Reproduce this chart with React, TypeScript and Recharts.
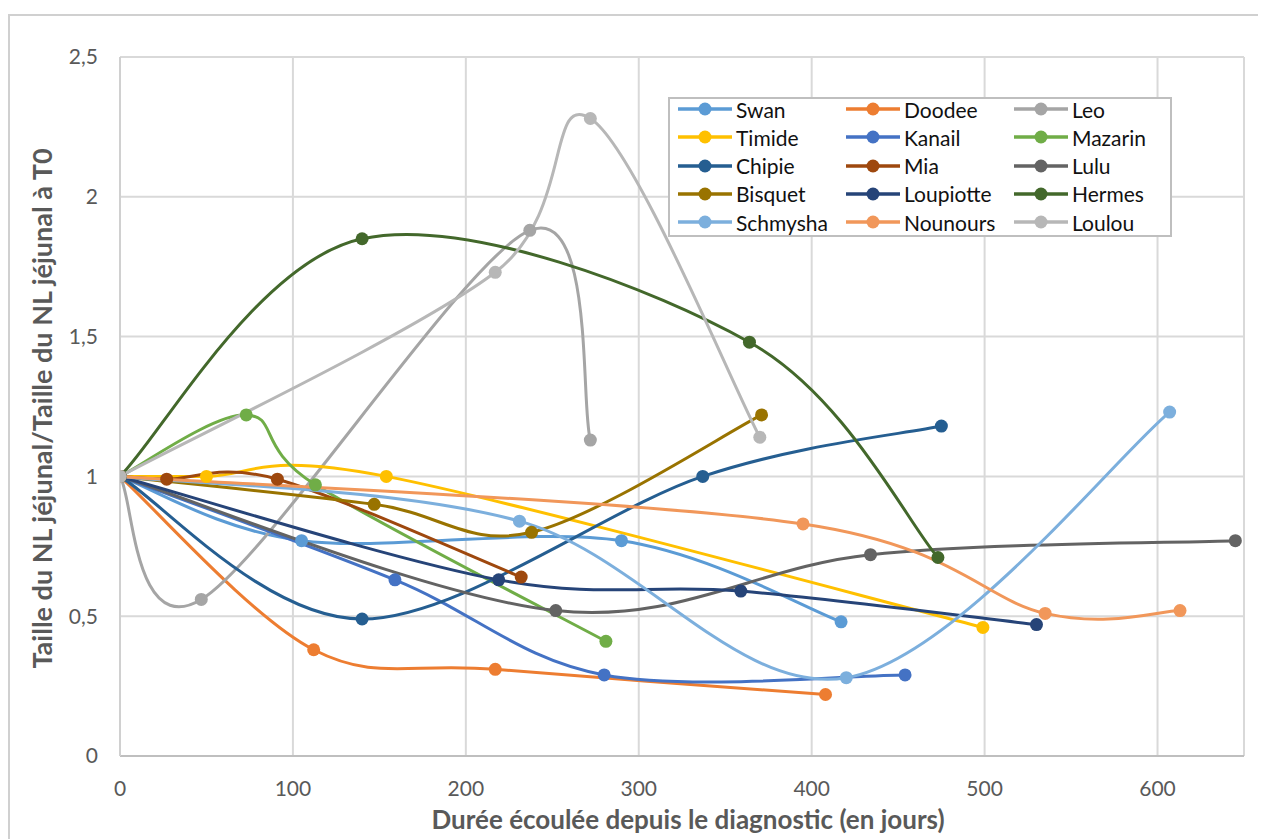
import { CartesianGrid, Label, Legend, Line, LineChart, XAxis, YAxis } from "recharts"

const dogNames = [
  "Swan", "Doodee", "Leo", "Timide", "Kanail", "Mazarin", "Chipie", "Mia",
  "Lulu", "Bisquet", "Loupiotte", "Hermes", "Schmysha", "Nounours", "Loulou",
]
const lineColors = [
  "#5B9BD5", "#ED7D31", "#A5A5A5", "#FFC000", "#4472C4", "#70AD47", "#255E91", "#9E480E",
  "#636363", "#997300", "#264478", "#43682B", "#7CAFDD", "#F1975A", "#B7B7B7",
]

// jours depuis le diagnostic -> taille relative du NL jéjunal
const swanDays = [0, 105, 290, 417]
const swanRatio = [1, 0.77, 0.77, 0.48]
const doodeeDays = [0, 112, 217, 408]
const doodeeRatio = [1, 0.38, 0.31, 0.22]
const leoDays = [0, 47, 237, 272]
const leoRatio = [1, 0.56, 1.88, 1.13]
const timideDays = [0, 50, 154, 499]
const timideRatio = [1, 1.0, 1.0, 0.46]
const kanailDays = [0, 159, 280, 454]
const kanailRatio = [1, 0.63, 0.29, 0.29]
const mazarinDays = [0, 73, 113, 281]
const mazarinRatio = [1, 1.22, 0.97, 0.41]
const chipieDays = [0, 140, 337, 475]
const chipieRatio = [1, 0.49, 1.0, 1.18]
const miaDays = [0, 27, 91, 232]
const miaRatio = [1, 0.99, 0.99, 0.64]
const luluDays = [0, 252, 434, 645]
const luluRatio = [1, 0.52, 0.72, 0.77]
const bisquetDays = [0, 147, 238, 371]
const bisquetRatio = [1, 0.9, 0.8, 1.22]
const loupiotteDays = [0, 219, 359, 530]
const loupiotteRatio = [1, 0.63, 0.59, 0.47]
const hermesDays = [0, 140, 364, 473]
const hermesRatio = [1, 1.85, 1.48, 0.71]
const schmyshaDays = [0, 231, 420, 607]
const schmyshaRatio = [1, 0.84, 0.28, 1.23]
const nounoursDays = [0, 395, 535, 613]
const nounoursRatio = [1, 0.83, 0.51, 0.52]
const loulouDays = [0, 217, 272, 370]
const loulouRatio = [1, 1.73, 2.28, 1.14]

const xTicks = [0, 100, 200, 300, 400, 500, 600]
const yTicks = [0, 0.5, 1, 1.5, 2, 2.5]

const allDays = [
  swanDays, doodeeDays, leoDays, timideDays, kanailDays, mazarinDays, chipieDays, miaDays,
  luluDays, bisquetDays, loupiotteDays, hermesDays, schmyshaDays, nounoursDays, loulouDays,
]
const allRatios = [
  swanRatio, doodeeRatio, leoRatio, timideRatio, kanailRatio, mazarinRatio, chipieRatio, miaRatio,
  luluRatio, bisquetRatio, loupiotteRatio, hermesRatio, schmyshaRatio, nounoursRatio, loulouRatio,
]

const series = dogNames.map((name, i) => ({
  name,
  color: lineColors[i],
  points: allDays[i].map((d, j) => ({ x: d, y: allRatios[i][j] })),
}))

// lissage façon Excel (bezier type Catmull-Rom, tension 1/6)
const excelSmooth = (context: any) => {
  let px: number[] = []
  let py: number[] = []
  return {
    areaStart() {},
    areaEnd() {},
    lineStart() {
      px = []
      py = []
    },
    point(x: number, y: number) {
      px.push(+x)
      py.push(+y)
    },
    lineEnd() {
      const n = px.length
      if (!n) return
      context.moveTo(px[0], py[0])
      for (let i = 0; i < n - 1; i++) {
        const a = Math.max(i - 1, 0)
        const b = Math.min(i + 2, n - 1)
        context.bezierCurveTo(
          px[i] + (px[i + 1] - px[a]) / 6, py[i] + (py[i + 1] - py[a]) / 6,
          px[i + 1] - (px[b] - px[i]) / 6, py[i + 1] - (py[b] - py[i]) / 6,
          px[i + 1], py[i + 1],
        )
      }
    },
  }
}

const FONT = "Lato, 'Open Sans', sans-serif"
const tickStyle = { fill: "#595959", fontSize: 21, fontFamily: FONT }

const LegendBox = () => (
  <div
    style={{
      width: 504,
      height: 140,
      boxSizing: "border-box",
      border: "2px solid #bfbfbf",
      background: "#fff",
      overflow: "hidden",
      fontFamily: FONT,
      fontSize: 21,
      color: "#111",
    }}
  >
    <div
      style={{
        display: "grid",
        gridTemplateColumns: "168px 168px 168px",
        gridAutoRows: "28.25px",
        padding: "0 0 0 8px",
        transform: "translateY(-4px)",
      }}
    >
      {series.map((s) => (
        <div key={s.name} style={{ display: "flex", alignItems: "center", whiteSpace: "nowrap" }}>
          <svg width={58} height={16} style={{ flex: "none" }}>
            <line x1={0} y1={8} x2={54} y2={8} stroke={s.color} strokeWidth={3.5} />
            <circle cx={27} cy={8} r={6.5} fill={s.color} />
          </svg>
          <span>{s.name}</span>
        </div>
      ))}
    </div>
  </div>
)

export default function App() {
  return (
    <div
      style={{
        marginTop: 6,
        borderTop: "2px solid #d0d0d0",
        borderLeft: "2px solid #d0d0d0",
        width: 1256,
        height: 823,
        overflow: "hidden",
        background: "#fff",
      }}
    >
      <LineChart
        width={1256}
        height={823}
        margin={{ top: 41, right: 22, left: 50, bottom: 43 }}
      >
        <CartesianGrid stroke="#d9d9d9" strokeWidth={2} />
        <XAxis
          type="number"
          dataKey="x"
          domain={[0, 650]}
          ticks={xTicks}
          allowDataOverflow
          tickLine={false}
          tickSize={0}
          tickMargin={25}
          height={40}
          axisLine={{ stroke: "#bfbfbf", strokeWidth: 2 }}
          tick={tickStyle}
        >
          <Label
            content={({ viewBox }: any) => (
              <text
                x={viewBox.x + viewBox.width / 2 + 6}
                y={813}
                textAnchor="middle"
                fill="#595959"
                fontFamily={FONT}
                fontWeight="bold"
                fontSize={26}
              >
                Durée écoulée depuis le diagnostic (en jours)
              </text>
            )}
          />
        </XAxis>
        <YAxis
          type="number"
          dataKey="y"
          domain={[0, 2.5]}
          ticks={yTicks}
          width={60}
          tickLine={false}
          tickSize={0}
          tickMargin={22}
          axisLine={{ stroke: "#d0d0d0", strokeWidth: 2 }}
          tick={tickStyle}
          tickFormatter={(v: number) => String(v).replace(".", ",")}
        >
          <Label
            content={({ viewBox }: any) => {
              const cy = viewBox.y + viewBox.height / 2 + 2
              return (
                <text
                  x={42}
                  y={cy}
                  transform={`rotate(-90 42 ${cy})`}
                  textAnchor="middle"
                  fill="#595959"
                  fontFamily={FONT}
                  fontWeight="bold"
                  fontSize={27}
                >
                  Taille du NL jéjunal/Taille du NL jéjunal à T0
                </text>
              )
            }}
          />
        </YAxis>
        {series.map((s) => (
          <Line
            key={s.name}
            name={s.name}
            data={s.points}
            dataKey="y"
            type={excelSmooth as any}
            stroke={s.color}
            strokeWidth={3}
            dot={{ r: 6.5, fill: s.color, stroke: s.color, strokeWidth: 0 }}
            activeDot={false}
            isAnimationActive={false}
          />
        ))}
        <Legend
          layout="horizontal"
          verticalAlign="middle"
          align="center"
          content={() => <LegendBox />}
          wrapperStyle={{ left: 658, top: 81, width: 504, height: 140 }}
        />
      </LineChart>
    </div>
  )
}
